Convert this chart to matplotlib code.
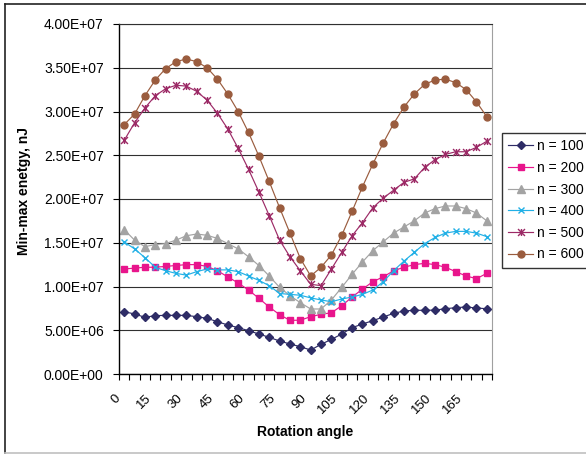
import matplotlib
matplotlib.use("Agg")
import matplotlib.pyplot as plt
import numpy as np
from matplotlib.path import Path
from matplotlib.lines import Line2D
from matplotlib.ticker import FuncFormatter, FixedLocator
from matplotlib.transforms import ScaledTranslation

plt.rcParams['font.family'] = ['Liberation Sans', 'DejaVu Sans']

# rotation angle categories (degrees)
angles = list(range(0, 180, 5))

n100 = [7.12e6, 6.86e6, 6.48e6, 6.67e6, 6.70e6, 6.70e6, 6.70e6, 6.55e6, 6.36e6, 5.98e6,
        5.60e6, 5.30e6, 4.95e6, 4.57e6, 4.19e6, 3.77e6, 3.43e6, 3.12e6, 2.74e6, 3.39e6,
        3.96e6, 4.57e6, 5.30e6, 5.71e6, 6.10e6, 6.51e6, 6.93e6, 7.20e6, 7.28e6, 7.28e6,
        7.30e6, 7.46e6, 7.58e6, 7.66e6, 7.54e6, 7.46e6]
n200 = [1.20e7, 1.21e7, 1.22e7, 1.22e7, 1.23e7, 1.24e7, 1.25e7, 1.25e7, 1.23e7, 1.18e7,
        1.11e7, 1.04e7, 9.60e6, 8.65e6, 7.66e6, 6.78e6, 6.13e6, 6.15e6, 6.55e6, 6.82e6,
        7.00e6, 7.80e6, 8.80e6, 9.70e6, 1.055e7, 1.11e7, 1.18e7, 1.22e7, 1.25e7, 1.265e7,
        1.25e7, 1.22e7, 1.17e7, 1.12e7, 1.09e7, 1.15e7]
n300 = [1.65e7, 1.53e7, 1.455e7, 1.48e7, 1.49e7, 1.53e7, 1.58e7, 1.60e7, 1.585e7, 1.55e7,
        1.49e7, 1.43e7, 1.34e7, 1.24e7, 1.12e7, 9.90e6, 8.95e6, 8.15e6, 7.43e6, 7.43e6,
        8.46e6, 9.90e6, 1.14e7, 1.28e7, 1.41e7, 1.51e7, 1.61e7, 1.68e7, 1.75e7, 1.84e7,
        1.89e7, 1.92e7, 1.92e7, 1.89e7, 1.84e7, 1.75e7]
n400 = [1.51e7, 1.43e7, 1.33e7, 1.22e7, 1.18e7, 1.15e7, 1.13e7, 1.17e7, 1.20e7, 1.19e7,
        1.19e7, 1.17e7, 1.12e7, 1.07e7, 1.01e7, 9.20e6, 9.10e6, 9.00e6, 8.70e6, 8.46e6,
        8.26e6, 8.57e6, 8.80e6, 9.10e6, 9.60e6, 1.055e7, 1.18e7, 1.29e7, 1.39e7, 1.49e7,
        1.56e7, 1.61e7, 1.63e7, 1.63e7, 1.61e7, 1.57e7]
n500 = [2.67e7, 2.87e7, 3.04e7, 3.18e7, 3.26e7, 3.30e7, 3.29e7, 3.23e7, 3.13e7, 2.98e7,
        2.80e7, 2.58e7, 2.34e7, 2.08e7, 1.81e7, 1.53e7, 1.34e7, 1.18e7, 1.025e7, 1.01e7,
        1.20e7, 1.39e7, 1.58e7, 1.73e7, 1.90e7, 2.01e7, 2.10e7, 2.19e7, 2.23e7, 2.36e7,
        2.45e7, 2.51e7, 2.54e7, 2.54e7, 2.59e7, 2.66e7]
n600 = [2.85e7, 2.97e7, 3.18e7, 3.36e7, 3.49e7, 3.57e7, 3.60e7, 3.57e7, 3.50e7, 3.37e7,
        3.20e7, 3.00e7, 2.76e7, 2.49e7, 2.20e7, 1.90e7, 1.61e7, 1.32e7, 1.12e7, 1.22e7,
        1.36e7, 1.585e7, 1.86e7, 2.14e7, 2.40e7, 2.64e7, 2.86e7, 3.05e7, 3.20e7, 3.31e7,
        3.36e7, 3.37e7, 3.33e7, 3.25e7, 3.11e7, 2.94e7]

labels = ["n = 100", "n = 200", "n = 300", "n = 400", "n = 500", "n = 600"]

# Excel style "star" marker: an x with a vertical bar
star = Path([(-1, -1), (1, 1), (-1, 1), (1, -1), (0, -1), (0, 1)],
            [Path.MOVETO, Path.LINETO, Path.MOVETO, Path.LINETO, Path.MOVETO, Path.LINETO])

styles = [
    dict(color="#2E2C66", marker="D", ms=3.8),
    dict(color="#E8158C", marker="s", ms=5),
    dict(color="#A3A3A3", marker="^", ms=5.2),
    dict(color="#22B0E6", marker="x", ms=4.5, mew=1),
    dict(color="#9C2A66", marker=star, ms=5, mew=1),
    dict(color="#9A5C3E", marker="o", ms=5),
]

fig = plt.figure(figsize=(5.86, 4.55), dpi=100)
ax = fig.add_axes([119 / 586, 1 - 374 / 455, 373 / 586, 350 / 455])

x = np.arange(len(angles))
for ys, lab, st in zip([n100, n200, n300, n400, n500, n600], labels, styles):
    ax.plot(x, ys, lw=0.85, label=lab, **st)

ax.set_xlim(-0.5, len(angles) - 0.5)
ax.set_ylim(0, 4e7)
ax.set_yticks(np.arange(0, 4.01e7, 5e6))
ax.yaxis.set_major_formatter(FuncFormatter(lambda v, p: f"{v:.2E}"))
ax.grid(axis="y", color="#303030", lw=0.8)
ax.set_axisbelow(True)

# category labels every 15 degrees, tick marks between categories
ax.set_xticks(x[::3])
ax.set_xticklabels([str(a) for a in angles[::3]])
ax.xaxis.set_minor_locator(FixedLocator(np.arange(-0.5, len(angles), 1.0)))
ax.tick_params(axis="x", which="major", length=0, pad=13, labelsize=9.5)
ax.tick_params(axis="x", which="minor", length=4, width=0.8, direction="out")
ax.tick_params(axis="y", length=4, width=0.8, pad=7, labelsize=10)
shift = ScaledTranslation(-10 / 100, 0, fig.dpi_scale_trans)
for t in ax.get_xticklabels():
    t.set_rotation(45)
    t.set_rotation_mode("anchor")
    t.set_ha("right")
    t.set_va("top")
    t.set_transform(t.get_transform() + shift)

for s in ["left", "bottom"]:
    ax.spines[s].set_color("black")
    ax.spines[s].set_linewidth(1)
ax.spines["right"].set_color("#A0A0A0")
ax.spines["right"].set_linewidth(0.8)
ax.spines["top"].set_color("#303030")
ax.spines["top"].set_linewidth(0.8)

ax.set_xlabel("Rotation angle", fontsize=10, fontweight="bold")
ax.xaxis.set_label_coords(0.5, -(432 - 374) / 350)
ax.xaxis.label.set_va("center")
ax.set_ylabel("Min-max enetgy, nJ", fontsize=10, fontweight="bold")
ax.yaxis.set_label_coords((24 - 119) / 373, 0.523)
ax.yaxis.label.set_va("center")

leg = fig.legend(loc="upper left", bbox_to_anchor=(502 / 586, 1 - 133 / 455),
                 borderaxespad=0, fontsize=10, frameon=True, fancybox=False,
                 edgecolor="black", handlelength=1.8, handletextpad=0.3,
                 labelspacing=0.55, borderpad=0.45)
leg.get_frame().set_linewidth(1)

# chart area border
fig.add_artist(Line2D([5 / 586, 1], [1 - 4 / 455] * 2, color="#222222", lw=1.2, transform=fig.transFigure))
fig.add_artist(Line2D([5 / 586] * 2, [1 - 4 / 455, 1 - 453 / 455], color="#222222", lw=1.2, transform=fig.transFigure))
fig.add_artist(Line2D([5 / 586, 1], [1 - 453 / 455] * 2, color="#C0C0C0", lw=1.2, transform=fig.transFigure))

fig.savefig("out.png", dpi=100, facecolor="white")
